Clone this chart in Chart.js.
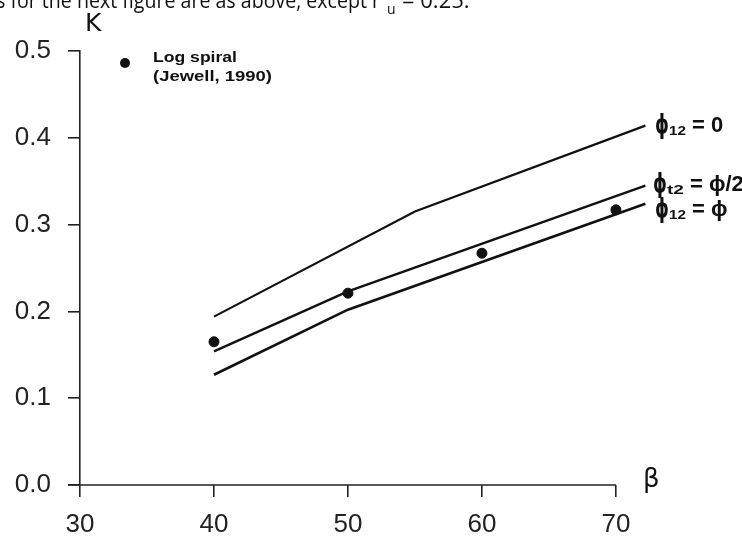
<!DOCTYPE html>
<html>
<head>
<meta charset="utf-8">
<script src="https://cdn.jsdelivr.net/npm/chart.js@4"></script>
<style>
html,body{margin:0;padding:0;background:#fff;}
#wrap{position:relative;width:742px;height:539px;}
</style>
</head>
<body>
<div id="wrap"><canvas id="c" width="742" height="539"></canvas></div>
<script>
// ---- data ----
const xTicks = [30, 40, 50, 60, 70];
const yTicks = [0, 0.1, 0.2, 0.3, 0.4, 0.5];

const betaPhi0 = [40, 55, 72.2];
const kPhi0    = [0.194, 0.315, 0.414];

const betaPhiHalf = [40, 50, 72.2];
const kPhiHalf    = [0.154, 0.223, 0.345];

const betaPhiFull = [40, 50, 72.2];
const kPhiFull    = [0.127, 0.202, 0.324];

const betaLogSpiral = [40, 50, 60, 70];
const kLogSpiral    = [0.165, 0.221, 0.267, 0.317];

const curveLabels = [
  { sub: '12', rest: '= 0' },
  { sub: 't2', rest: '= ϕ/2' },
  { sub: '12', rest: '= ϕ' }
];
const legendLines = ['Log spiral', '(Jewell, 1990)'];
const captionText = 's for the next figure are as above, except r';

function pts(xs, ys){ return xs.map((x,i)=>({x:x, y:ys[i]})); }

const INK = '#111';

function drawFit(ctx, text, x, y, width){
  const w = ctx.measureText(text).width;
  ctx.save();
  ctx.translate(x, y);
  ctx.scale(width / w, 1);
  ctx.fillText(text, 0, 0);
  ctx.restore();
}

const overlay = {
  id: 'overlay',
  afterDatasetsDraw(chart){
    const ctx = chart.ctx;
    const xs = chart.scales.x, ys = chart.scales.y;
    ctx.save();
    // x axis line from 30 to 70
    ctx.strokeStyle = '#222';
    ctx.lineWidth = 1.6;
    ctx.beginPath();
    const y0 = ys.getPixelForValue(0);
    ctx.moveTo(xs.getPixelForValue(30) - 12, y0);
    ctx.lineTo(xs.getPixelForValue(70), y0);
    ctx.stroke();

    ctx.fillStyle = INK;
    ctx.textBaseline = 'alphabetic';
    // caption line at top (clipped)
    ctx.font = '22px "Open Sans", "DejaVu Sans", sans-serif';
    drawFit(ctx, captionText, -4, 8, 384);
    ctx.font = '14px "Open Sans", sans-serif';
    ctx.fillText('u', 387, 14);
    ctx.font = '22px "Open Sans", sans-serif';
    ctx.fillText('= 0.25.', 402, 8);

    // K and beta labels
    ctx.font = '25px "DejaVu Sans", "Liberation Sans", sans-serif';
    ctx.fillText('K', 85, 31);
    ctx.font = '26px "DejaVu Sans", "Liberation Sans", sans-serif';
    ctx.fillText('β', 643, 487);

    // legend
    ctx.beginPath();
    ctx.arc(125, 63, 5, 0, Math.PI*2);
    ctx.fill();
    ctx.font = 'bold 15px "Liberation Sans", Arial, sans-serif';
    drawFit(ctx, legendLines[0], 153, 62, 84);
    drawFit(ctx, legendLines[1], 153, 81, 119);

    // curve labels on the right
    const lx = [655, 653, 655];
    const lb = [132, 191, 216];
    curveLabels.forEach((l, i) => {
      ctx.font = 'bold 26px "DejaVu Sans", sans-serif';
      drawFit(ctx, 'ϕ', lx[i], lb[i] + 1, 14);
      ctx.font = 'bold 13px "Liberation Sans", Arial, sans-serif';
      drawFit(ctx, l.sub, lx[i] + 14, lb[i] + 3, 17);
      ctx.font = 'bold 22px "Liberation Sans", "DejaVu Sans", sans-serif';
      ctx.fillText(l.rest, lx[i] + 37, lb[i]);
    });
    ctx.restore();
  }
};

new Chart(document.getElementById('c'), {
  type: 'scatter',
  data: {
    datasets: [
      { data: pts(betaPhi0, kPhi0), showLine: true, borderColor: INK, borderWidth: 2.2, pointRadius: 0, tension: 0, clip: false },
      { data: pts(betaPhiHalf, kPhiHalf), showLine: true, borderColor: INK, borderWidth: 2.4, pointRadius: 0, tension: 0, clip: false },
      { data: pts(betaPhiFull, kPhiFull), showLine: true, borderColor: INK, borderWidth: 2.6, pointRadius: 0, tension: 0, clip: false },
      { data: pts(betaLogSpiral, kLogSpiral), showLine: false, backgroundColor: INK, borderColor: INK, pointRadius: 5, pointHoverRadius: 5 }
    ]
  },
  options: {
    responsive: false,
    animation: false,
    events: [],
    layout: { padding: { top: 51, right: 96.6, left: 0, bottom: 0 } },
    plugins: { legend: { display: false }, tooltip: { enabled: false } },
    scales: {
      x: {
        type: 'linear', min: 30, max: 72.2,
        afterBuildTicks: s => { s.ticks = xTicks.map(v => ({ value: v })); },
        afterFit: s => { s.height = 54; },
        border: { display: false },
        grid: { drawOnChartArea: false, drawTicks: true, tickLength: 12, color: '#222', lineWidth: 1.6 },
        ticks: { color: '#222', padding: 12, font: { family: '"Liberation Sans", Arial, sans-serif', size: 26 }, maxRotation: 0 }
      },
      y: {
        type: 'linear', min: 0, max: 0.5,
        afterBuildTicks: s => { s.ticks = yTicks.map(v => ({ value: v })); },
        afterFit: s => { s.width = 80; },
        border: { display: true, color: '#222', width: 1.6 },
        grid: { drawOnChartArea: false, drawTicks: true, tickLength: 12, color: '#222', lineWidth: 1.6 },
        ticks: { color: '#222', padding: 17, callback: v => v.toFixed(1), font: { family: '"Liberation Sans", Arial, sans-serif', size: 26 } }
      }
    }
  },
  plugins: [overlay]
});
</script>
</body>
</html>
